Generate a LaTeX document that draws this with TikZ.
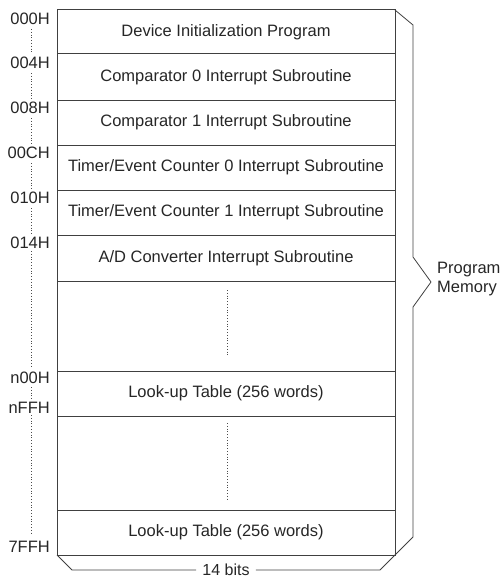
\documentclass[tikz,border=0pt]{standalone}
\usepackage{fontspec}
\setmainfont{Liberation Sans}
\begin{document}
\begin{tikzpicture}[x=1pt,y=-1pt,font=\fontsize{16.5}{19}\selectfont,
    memline/.style={draw=black!75,line width=1pt},
    dotline/.style={draw=black!70,line width=0.8pt,dotted},
    addr/.style={anchor=east,inner sep=0pt,text=black!85},
    entry/.style={inner sep=0pt,text=black!85}]
  \useasboundingbox (0,0) rectangle (500,578);
  % memory block
  \draw[memline] (57,10) rectangle (395,555);
  \foreach \y in {54,100,145,190,235,281,371,416,510}
    \draw[memline] (57,\y) -- (395,\y);
  % contents
  \node[entry] (r0) at (226,32) {Device Initialization Program};
  \node[entry] (r1) at (226,77) {Comparator 0 Interrupt Subroutine};
  \node[entry] (r2) at (226,122.5) {Comparator 1 Interrupt Subroutine};
  \node[entry] (r3) at (226,167.5) {Timer/Event Counter 0 Interrupt Subroutine};
  \node[entry] (r4) at (226,212.5) {Timer/Event Counter 1 Interrupt Subroutine};
  \node[entry] (r5) at (226,258) {A/D Converter Interrupt Subroutine};
  \node[entry] (r6) at (226,393.5) {Look-up Table (256 words)};
  \node[entry] (r7) at (226,532.5) {Look-up Table (256 words)};
  \draw[dotline] (227,290) -- (227,355);
  \draw[dotline] (227,423) -- (227,501);
  % addresses
  \node[addr] (a0) at (50,19) {000H};
  \node[addr] (a1) at (50,63) {004H};
  \node[addr] (a2) at (50,108) {008H};
  \node[addr] (a3) at (50,153) {00CH};
  \node[addr] (a4) at (50,198) {010H};
  \node[addr] (a5) at (50,243) {014H};
  \node[addr] (a6) at (50,378) {n00H};
  \node[addr] (a7) at (50,408) {nFFH};
  \node[addr] (a8) at (50,547) {7FFH};
  \draw[dotline] (31,29) -- (31,54);
  \draw[dotline] (31,73) -- (31,99);
  \draw[dotline] (31,118) -- (31,144);
  \draw[dotline] (31,163) -- (31,189);
  \draw[dotline] (31,208) -- (31,234);
  \draw[dotline] (31,251) -- (31,368);
  \draw[dotline] (31,387) -- (31,400);
  \draw[dotline] (31,415) -- (31,533);
  % right brace
  \draw[memline,line width=0.8pt] (395,10) -- (413,25) -- (413,257) -- (431,282)
    -- (413,307) -- (413,537) -- (395,555);
  \node[anchor=west,inner sep=0pt,align=left,text=black!85] (pm) at (437,279)
    {Program\\Memory};
  % bottom brace
  \node[entry,inner xsep=6pt,font=\fontsize{16}{18}\selectfont] (w) at (226,569.5) {14 bits};
  \draw[memline,line width=0.8pt] (57,555) -- (72,570) -- (w.west |- 0,570);
  \draw[memline,line width=0.8pt] (w.east |- 0,570) -- (380,570) -- (395,555);
\end{tikzpicture}
\end{document}
